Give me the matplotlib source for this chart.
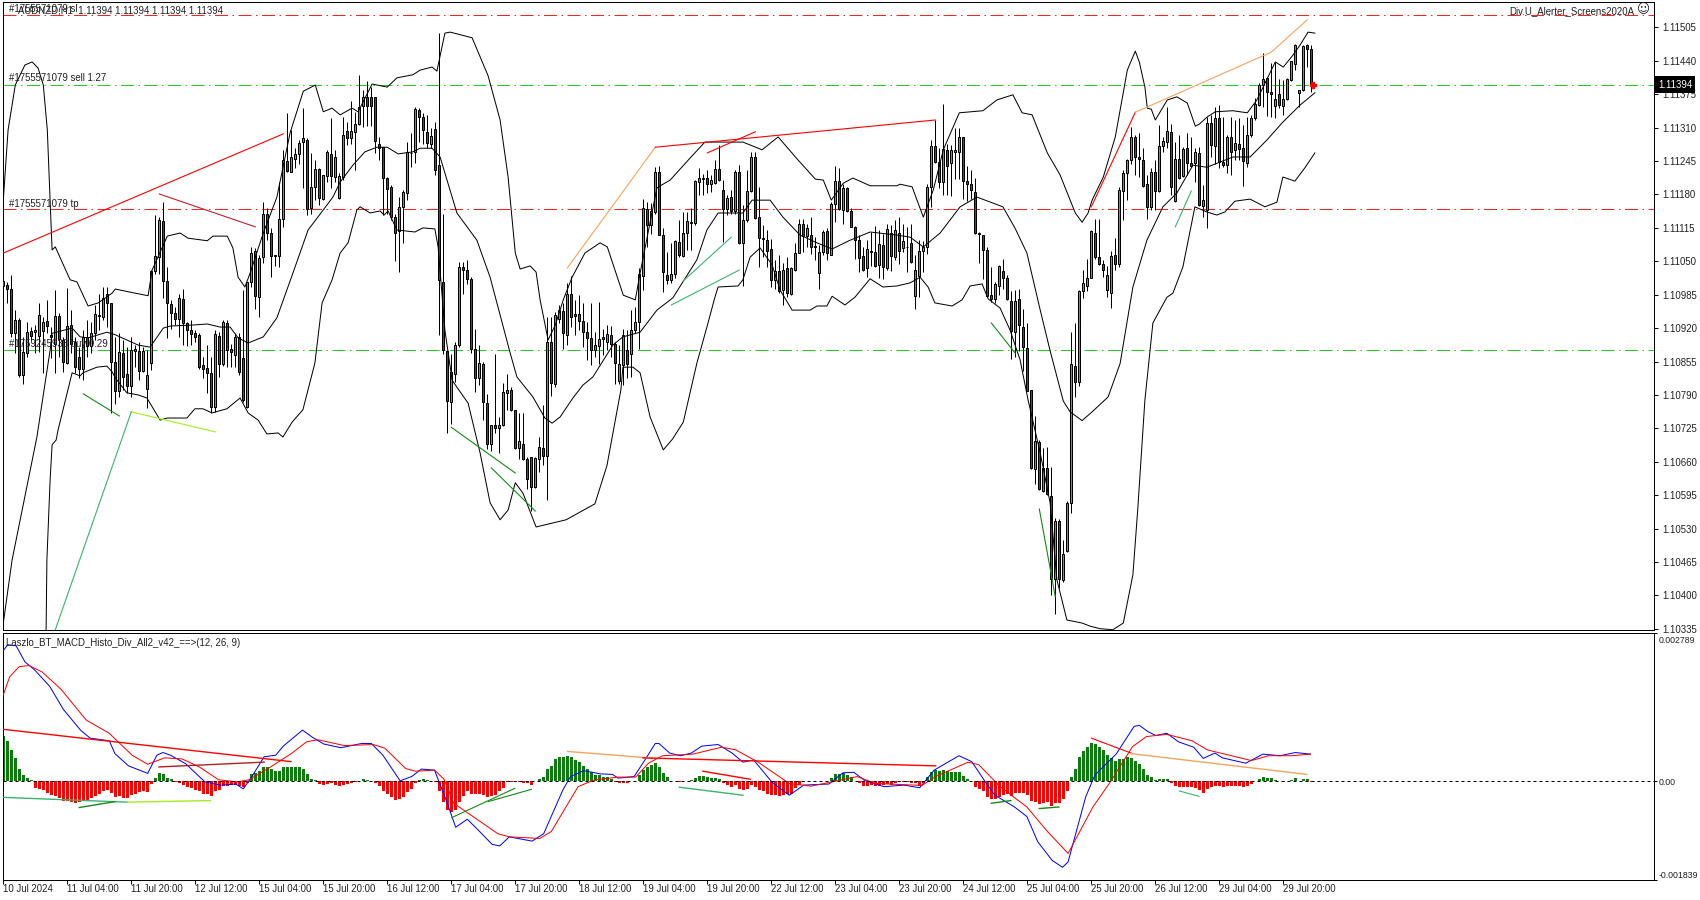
#!/usr/bin/env python3
"""
AUDNZD H1 terminal screenshot: candles with bands on top, MACD histogram pane below
"""

import numpy as np
import matplotlib
matplotlib.use('Agg')
import matplotlib.pyplot as plt
from matplotlib.transforms import ScaledTranslation

plt.rcParams['font.family'] = ['Liberation Sans', 'DejaVu Sans']

# all candle values are points above 1.10000
highs = [
    1021,1010,1023,955,939,903,932,923,926,968,
    942,974,923,995,949,903,999,955,903,884,
    916,936,932,965,987,1000,1000,969,903,910,
    897,884,903,887,893,884,877,1033,1140,1137,
    1166,1039,974,961,987,997,932,936,916,910,
    864,887,864,916,913,936,936,890,910,910,
    994,1010,1078,1075,1062,1166,1153,1114,1062,1205,
    1267,1338,1305,1270,1286,1349,1289,1260,1247,1231,
    1218,1266,1328,1266,1221,1331,1322,1361,1341,1412,
    1383,1400,1390,1370,1292,1273,1215,1198,1143,1176,
    1189,1283,1299,1351,1348,1338,1335,1309,1322,1494,
    1142,877,870,893,1049,1049,1052,1019,919,887,
    854,792,731,870,747,813,831,805,760,754,
    754,669,670,669,709,770,942,942,951,964,
    968,1007,1021,974,984,969,932,968,913,971,
    919,926,924,893,887,919,916,955,961,1036,
    1172,1166,1163,1234,1235,1114,1069,1085,1091,1130,
    1146,1146,1153,1208,1231,1220,1228,1218,1248,1276,
    1209,1179,1189,1227,1237,1159,1227,1263,1263,1195,
    1120,1110,1094,1052,1062,1046,1059,1039,1085,1133,
    1133,1123,1136,1097,1081,1110,1114,1166,1235,1231,
    1201,1194,1153,1118,1101,1078,1091,1107,1118,1110,
    1104,1123,1120,1130,1136,1123,1117,1122,1062,1091,
    1089,1201,1286,1325,1270,1357,1279,1276,1309,1310,
    1291,1235,1227,1213,1107,1102,1078,1039,1010,1042,
    1055,1023,993,995,996,958,930,800,749,703,
    686,688,649,550,548,508,583,913,930,994,
    1033,1055,1111,1132,1133,1052,1041,1071,1096,1195,
    1227,1250,1312,1296,1299,1270,1218,1231,1247,1315,
    1292,1350,1318,1283,1296,1273,1299,1292,1270,1273,
    1198,1331,1335,1351,1354,1331,1296,1331,1325,1328,
    1315,1331,1335,1367,1396,1455,1409,1435,1438,1404,
    1403,1406,1440,1472,1383,1471,1472,1471]
body_tops = [
    1011,1004,997,936,936,874,913,914,916,945,
    931,934,906,943,943,897,924,926,893,864,
    903,902,911,947,945,978,986,968,854,874,
    871,830,878,880,876,876,828,1032,1060,1130,
    1128,1012,967,950,978,976,929,917,910,906,
    848,843,832,908,905,932,929,880,902,902,
    861,1010,1067,1070,1056,1143,1143,1106,1062,1133,
    1247,1245,1252,1258,1281,1289,1287,1194,1229,1229,
    1217,1262,1259,1252,1216,1296,1303,1303,1318,1351,
    1369,1369,1369,1369,1279,1272,1213,1194,1137,1155,
    1184,1263,1261,1346,1344,1331,1301,1294,1307,1237,
    1010,875,835,887,1039,1039,1034,1015,880,853,
    851,775,731,731,732,796,800,800,760,700,
    695,666,669,668,689,687,893,893,945,955,
    953,986,986,947,947,934,913,900,888,899,
    902,908,906,890,851,906,877,917,931,1026,
    1154,1151,1148,1224,1223,1102,1023,1025,1089,1087,
    1106,1128,1126,1206,1213,1213,1213,1208,1229,1229,
    1189,1174,1176,1224,1223,1130,1187,1252,1252,1137,
    1095,1092,1073,1031,1031,1034,1036,1036,1067,1123,
    1122,1114,1102,1079,1068,1107,1108,1162,1206,1206,
    1192,1192,1148,1117,1091,1060,1073,1071,1068,1083,
    1081,1112,1106,1110,1106,1089,1078,1085,1034,1070,
    1078,1194,1275,1275,1244,1268,1266,1266,1266,1291,
    1291,1206,1201,1185,1106,1101,1072,985,1005,1040,
    1032,1018,972,973,977,922,882,799,701,699,
    648,648,594,544,544,481,580,850,846,992,
    1007,1018,1108,1106,1059,1044,1023,1061,1062,1189,
    1221,1247,1292,1292,1252,1247,1200,1223,1224,1275,
    1285,1304,1301,1249,1249,1268,1270,1242,1263,1261,
    1169,1320,1320,1329,1329,1244,1291,1291,1281,1279,
    1270,1296,1328,1357,1394,1405,1406,1379,1366,1375,
    1365,1404,1440,1470,1383,1469,1470,1463]
body_bottoms = [
    1002,996,911,910,828,828,872,905,913,905,
    915,925,903,890,899,854,852,890,845,841,
    841,885,885,911,943,942,968,854,798,798,
    825,808,808,876,837,837,802,852,1032,1058,
    1012,968,950,937,937,929,917,908,903,845,
    840,833,767,767,850,850,878,874,867,834,
    780,767,1010,983,981,1059,1106,1061,1061,1061,
    1133,1226,1224,1250,1258,1283,1151,1153,1194,1174,
    1172,1216,1216,1215,1174,1215,1290,1289,1301,1318,
    1352,1353,1352,1285,1270,1213,1191,1137,1106,1109,
    1155,1182,1260,1263,1331,1305,1281,1279,1228,1013,
    877,779,776,831,887,1033,1016,880,822,822,
    776,695,695,726,726,731,794,760,687,687,
    666,627,611,611,666,671,671,813,812,938,
    910,906,942,943,934,913,900,878,877,886,
    898,893,890,853,817,849,851,869,916,931,
    1022,1121,1121,1145,1102,1030,1013,1013,1026,1062,
    1061,1106,1124,1124,1205,1211,1201,1200,1203,1208,
    1151,1151,1148,1148,1085,1086,1130,1187,1135,1096,
    1093,1071,1014,1013,993,994,989,986,1034,1067,
    1099,1099,1078,1077,1028,1068,1066,1063,1162,1151,
    1149,1148,1117,1091,1057,1034,1036,1069,1041,1042,
    1039,1036,1060,1058,1071,1076,1077,1048,983,1022,
    1070,1078,1194,1244,1205,1204,1236,1242,1263,1263,
    1206,1201,1189,1105,1104,1072,983,977,977,1002,
    1018,977,915,913,926,884,798,648,646,606,
    603,597,431,431,431,429,486,580,816,816,
    992,1002,1018,1059,1044,1033,994,988,1044,1044,
    1186,1221,1247,1252,1249,1196,1155,1155,1186,1186,
    1275,1283,1195,1167,1213,1216,1242,1236,1242,1159,
    1157,1150,1276,1275,1244,1237,1237,1263,1266,1268,
    1246,1242,1296,1328,1354,1394,1379,1375,1353,1355,
    1353,1365,1403,1433,1377,1383,1464,1394]
lows = [
    976,968,903,871,825,812,864,897,871,874,
    833,910,861,832,864,835,851,871,832,822,
    819,864,871,897,916,936,923,754,773,786,
    799,793,786,845,819,835,764,838,1026,1026,
    978,900,919,926,903,887,885,887,893,841,
    822,793,754,757,825,846,845,845,845,828,
    777,765,1000,958,941,1047,1091,1019,1041,1039,
    1117,1224,1224,1231,1240,1192,1140,1143,1169,1159,
    1169,1205,1192,1205,1172,1208,1276,1279,1228,1315,
    1312,1313,1313,1260,1247,1140,1143,1130,1051,1030,
    1085,1169,1234,1242,1283,1279,1270,1270,1218,906,
    870,716,734,815,884,986,1005,872,796,809,
    742,685,680,715,677,729,760,759,685,666,
    664,607,565,609,640,653,585,787,805,929,
    880,887,923,906,916,884,858,848,864,851,
    868,877,864,812,812,809,822,825,911,880,
    994,1078,1104,1143,1101,991,1006,1007,1017,1059,
    1059,1072,1072,1120,1179,1179,1182,1185,1201,1207,
    1088,1140,1142,1143,1083,1002,1127,1185,1133,1039,
    1059,1039,1000,997,989,964,981,984,1032,1066,
    1068,1078,1065,1052,997,1062,1052,1062,1127,1149,
    1122,1146,1116,1055,1029,1032,1020,1040,1039,1018,
    1016,1034,1032,1052,1045,1068,1029,1046,958,981,
    1029,1065,1155,1242,1192,1179,1179,1177,1211,1211,
    1172,1168,1172,1104,1046,1016,981,971,969,984,
    997,974,860,863,876,837,797,646,617,604,
    601,595,400,363,415,425,485,561,786,808,
    978,992,1017,1055,1042,1020,981,960,1033,1039,
    1130,1170,1240,1218,1214,1195,1132,1149,1149,1185,
    1263,1270,1179,1166,1211,1214,1218,1234,1205,1157,
    1137,1114,1253,1240,1231,1234,1221,1218,1247,1247,
    1196,1234,1292,1325,1352,1351,1333,1330,1328,1348,
    1335,1364,1401,1422,1350,1381,1429,1380]
# G = up bar, R = down bar
bar_dir = ("RRRGRGGRGG" "GRRGRRGRRR" "GRGGGGRRRG" "RRGGRGGGGG" "RRRRGRRRRR"
           "RRRGRGRRGR" "RGGRGGRRGG" "GRGGGGRGGR" "GGRGGGRGGG" "GRRRRRRRRG"
           "GGGGRRRGRR" "RRGGGRRRRG" "RRGRGGGRRG" "RRRGGRGRGG" "RGRRRRRRGG"
           "RGRRGGRGGG" "GRGGRRRGGR" "GGRGGGRGGR" "RGRGRGGGRR" "RRRGRGRGGG"
           "RGRGGGRGGR" "GRRRRRGGRG" "RGRGRGGRGG" "GGGRRGRGGG" "RRRRRRRRGG"
           "RRRGRRRRGR" "GRRGRGGGRG" "GGGRRRGGRG" "GGGRRRRGRG" "GGRGRGRRGR"
           "GGRGRRGRGR" "RGGGGGRRGR" "GGGGGGRR")

# bands, as (bar number, points above 1.10000)
upper_x = [0,1.2,3,5.4,7.2,8.7,10,11,11.7,12.2,13,16.7,18.4,21.2,23.7,27.2,28,31.7,36.2,37.2,41,44.2,46.2,51,52.4,56,57.4,58.7,60.4,61.7,65,68.4,71.7,75,78,80,82.2,84.2,87.2,88.7,92.2,96,98.4,102.4,104.2,107.2,108.4,110.4,111.7,117.2,121.2,124.2,126.2,128,129.2,131.7,133.2,134.2,136.2,138,140,142.2,145.4,149.2,151,155,158,159.2,163.4,166.7,171.7,175.4,180.9,184.9,189.7,193.7,198.7,203,205,207,210,212.4,216.7,223.4,224.2,227.2,230,232.5,235,239,244.9,248.4,252.4,254.7,257.2,261,264.2,268,269.7,271.2,272.2,275,278,281,283,284,285.4,286,287,288,291,293.4,296,298,299,301,303,307.4,311,313.4,318,320,322.4,324.2,326.2,327.9]
upper_y = [1169,1306,1393,1432,1438,1426,1393,1306,1169,1072,1078,1014,1010,963,969,988,996,990,983,1033,1099,1105,1095,1090,1099,1099,1076,1019,1000,1027,1105,1175,1300,1381,1393,1341,1348,1335,1348,1341,1395,1389,1407,1413,1422,1428,1420,1494,1496,1485,1411,1325,1214,1066,1035,1041,1029,975,897,926,975,1019,1066,1086,1078,984,975,1027,1193,1208,1251,1282,1282,1282,1267,1292,1247,1210,1208,1169,1202,1212,1197,1197,1200,1195,1136,1189,1267,1339,1343,1364,1374,1339,1335,1261,1218,1144,1126,1144,1169,1214,1292,1422,1459,1438,1389,1348,1346,1325,1364,1370,1358,1313,1317,1331,1341,1343,1339,1364,1438,1428,1451,1471,1496,1494]
mid_x = [0,2.2,8.4,11.7,12.2,17.2,19.2,21.2,25.9,28,33.7,36.7,40,41.7,47.4,51,54.2,56.7,58.7,61.2,65,68.4,72.4,76.2,80,82.4,84.2,87.4,90.4,93.4,96,98.7,102.4,104.2,107.2,109.2,113.4,118.4,121.7,126.7,128.4,132.4,135.4,137.2,139.2,142.4,144.9,147.4,152.4,154.9,159.2,163.4,167.4,169.9,173.4,175.9,178.7,184.9,187.2,191.7,194.9,199.2,203.4,207.2,211.7,216.7,223.4,226.7,230,234.2,239.2,243.4,249.9,252.9,255.9,259.2,261.7,265,266.7,269.7,272.2,276.2,279.2,282.4,285.9,289.9,293.4,297.4,300.9,307.4,311.7,315.9,319.9,324.2,327.9]
mid_y = [346,469,708,877,910,920,903,901,912,907,887,883,920,924,926,928,922,922,901,891,903,940,1027,1111,1150,1175,1204,1237,1263,1272,1272,1259,1263,1270,1270,1253,1144,1091,1019,872,825,786,745,735,747,784,809,825,887,903,912,955,979,1010,1053,1111,1144,1144,1169,1169,1136,1101,1086,1074,1091,1107,1101,1097,1078,1105,1156,1175,1156,1115,1066,956,876,778,757,740,757,786,851,1000,1091,1156,1183,1237,1233,1253,1253,1286,1321,1354,1378]
lower_x = [10.7,10.9,11.7,12.2,13.2,13.7,17.2,19.2,19.9,23.4,25.9,27.2,28,30.9,33.7,35.9,39.2,41,45.9,47.9,49.9,52.2,55.9,59.2,61.2,63.7,65.9,68.7,69.9,72.2,74.9,77.9,79.7,82.2,84.2,86.2,88.4,89.2,91.7,94.2,95.2,96.2,98.4,102.9,104.9,107.9,108.7,110.4,112.2,113.4,116.2,119.2,121.7,124.2,126.2,128,129.9,133.2,140.7,147.9,150.9,154.4,154.9,157.4,159.2,161.7,165,167.3,170,173.4,175.9,177.9,178.7,183.7,184.9,186.7,189.2,192.2,194.2,197.2,201.7,203.4,205.9,207.2,210.4,212.9,216.7,219.9,223.4,226.7,229.2,231.2,232.9,237.2,239.7,241.7,244.7,246.2,249.2,251.7,254.2,256.2,259.2,261.7,263.4,265.9,269.7,271.7,274.2,277.4,280,282.4,283.6,285.4,287.4,290.9,292.4,294.9,297.9,300.9,303.4,305.4,307.9,311.7,315.4,318.4,319.9,322.9,325.4,327.9]
lower_y = [333,469,624,693,702,722,833,827,833,844,846,835,823,794,790,784,741,745,745,763,763,755,763,784,755,741,714,716,708,737,761,852,969,1014,1066,1086,1150,1156,1144,1148,1140,1148,1111,1107,1115,1113,1078,916,819,805,774,677,580,547,566,619,599,533,547,578,652,800,844,844,833,747,683,704,737,852,922,980,1000,1002,1014,1058,1076,1043,994,955,955,963,963,982,965,980,1016,1000,1002,1008,1019,1000,969,963,975,1002,1006,977,959,916,858,780,678,580,430,352,346,340,335,333,346,440,566,780,930,980,988,1039,1156,1146,1140,1146,1167,1171,1156,1165,1214,1206,1232,1261]

# order levels, points above 1.10000
level_sl = 1530
level_sell = 1394
level_tp = 1151
level_buy = 877

# divergence lines in the price pane: colour, bars, points
price_lines = [
    ('#ff0000', [0, 70], [1066, 1298]),
    ('#c02030', [39, 63], [1181, 1117]),
    ('#158a15', [20, 29], [792, 749]),
    ('#a4ee20', [32, 53], [757, 718]),
    ('#3cb371', [13, 32], [333, 757]),
    ('#158a15', [112, 128], [727, 638]),
    ('#158a15', [122, 133], [648, 564]),
    ('#3cb371', [170, 182], [1012, 1097]),
    ('#3cb371', [167, 184], [965, 1033]),
    ('#f4a460', [141, 163], [1037, 1272]),
    ('#ff0000', [163, 233], [1272, 1325]),
    ('#ff0000', [176, 188], [1261, 1302]),
    ('#158a15', [247, 253], [930, 871]),
    ('#158a15', [259, 263], [568, 397]),
    ('#ff0000', [272, 283], [1156, 1340]),
    ('#f4a460', [283, 317, 326], [1340, 1457, 1520]),
    ('#3cb371', [293, 297], [1117, 1187]),
]

# MACD pane, values in 1e-5
macd_hist = [
    85,76,59,43,24,12,7,3,-12,-14,
    -16,-21,-26,-28,-32,-36,-37,-38,-40,-38,
    -37,-35,-31,-27,-24,-19,-16,-21,-29,-28,
    -31,-31,-26,-23,-20,-19,-20,-5,7,16,
    14,7,4,-1,-3,-7,-11,-13,-16,-19,
    -23,-23,-27,-18,-16,-9,-8,-7,-6,-8,
    -10,-4,13,15,19,27,27,23,19,19,
    27,27,27,27,26,23,13,5,2,-5,
    -7,-5,-4,-7,-9,-7,-5,-4,-2,1,
    4,3,1,-3,-9,-18,-24,-29,-35,-33,
    -30,-20,-15,-4,2,4,3,1,-1,-19,
    -38,-53,-58,-54,-38,-27,-19,-23,-24,-24,
    -26,-29,-28,-26,-19,-13,-2,-1,-2,-2,
    -3,-4,-7,0,4,8,23,29,41,45,
    46,48,45,40,36,29,23,18,12,11,
    8,8,4,-1,-4,-4,-3,0,1,12,
    21,27,30,34,27,16,8,0,0,-2,
    0,0,3,6,10,10,8,7,6,4,
    -3,-7,-10,-7,-14,-16,-14,-7,-10,-16,
    -18,-24,-26,-26,-27,-26,-24,-23,-13,-7,
    -1,1,1,1,1,1,1,6,13,14,
    15,12,8,0,-4,-8,-8,-7,-9,-8,
    -7,-5,-7,-3,-1,-1,-1,-4,-4,-8,
    -4,8,18,21,19,21,19,18,18,17,
    10,4,0,-10,-14,-19,-29,-33,-33,-29,
    -26,-24,-27,-21,-21,-21,-26,-36,-38,-42,
    -40,-39,-46,-41,-40,-33,-19,8,24,46,
    57,65,72,70,65,58,49,44,38,42,
    42,45,44,38,33,23,12,8,2,4,
    4,4,-4,-8,-11,-11,-11,-11,-13,-16,
    -21,-14,-11,-8,-8,-10,-9,-9,-9,-9,
    -10,-9,-5,1,4,8,6,6,3,0,
    -2,1,2,6,1,4,4,-2]
macd_x = [0,1.1,3.2,5.4,7.8,11.6,15,19.3,21.7,26.5,27.9,31.3,36.1,38.4,39.9,41.8,45.6,50.4,54.2,58.1,60,61.9,65.2,68.1,70,74.8,77.2,80.1,84.4,89.6,92,94.9,99.2,102.1,104.5,107.8,110.7,113.1,116,118.3,122.2,124.1,126.5,132.2,135.1,139.9,141.8,145.1,149.3,152.3,153.7,157.7,160.4,163,163.9,166.6,169.3,172,174.6,178.7,182.2,184.9,187.6,192.1,196.5,200.1,206.4,209.9,212.6,215.3,220.2,225.1,229.1,232.7,238.9,242.1,245.6,247.9,252.8,255.9,258.6,262.2,264.8,266.2,270.6,272.9,278.2,282.7,284,286.2,288.1,290.9,293.8,297.6,300,302.9,304.8,310.6,314.9,319.2,323,326.8]
macd_y = [245,256,254,224,209,178,135,96,81,76,52,29,15,49,54,49,33,-1,-7,-5,-14,6,46,49,66,96,83,70,63,71,71,49,1,9,23,21,-35,-86,-71,-88,-118,-121,-104,-112,-98,-16,9,20,14,13,6,9,40,71,71,53,48,53,66,69,53,36,40,-1,-26,-7,-5,16,17,2,-10,-7,-12,21,48,37,-2,-26,-48,-66,-113,-148,-161,-151,-29,12,51,103,105,93,86,90,74,64,43,53,44,34,51,48,54,51]
signal_x = [0,1.6,4,6.4,9.7,14.5,20.7,26.5,32.2,36.1,40.3,44.7,49,53.8,58.5,61.4,66.2,72,75.8,78.6,85.3,92.5,95.4,100.6,103,107.8,110.2,112.6,118.8,123.6,126.5,134.1,137,143.7,147.5,149.3,153.7,158.1,161.3,164.8,172.4,179.6,183.1,188.5,196.5,201.9,207.2,213.5,218,227.8,229.6,233.1,241.2,243.9,249.2,255.9,260.8,266.2,272.4,276.5,282.3,285.8,290.9,297.2,301,312,316.3,322,326.8]
signal_y = [162,196,215,217,205,172,115,90,49,32,44,42,27,3,-1,3,24,52,74,78,67,69,62,24,19,21,4,-41,-73,-98,-104,-107,-94,-10,2,4,8,8,34,48,51,64,59,37,-4,-9,-1,9,-4,-7,-8,9,36,31,-10,-48,-92,-135,-48,-4,65,84,88,76,59,39,48,48,51]

# divergence lines in the MACD pane: colour, bars, values, width
macd_lines = [
    ('#ff0000', [0, 71.9], [97.5, 37], 1.0),
    ('#b02020', [38.9, 65.2], [27, 36], 1.0),
    ('#3cb371', [0, 31], [-30, -39], 1.0),
    ('#a4ee20', [31, 51.8], [-39, -36], 1.0),
    ('#158a15', [19, 27.9], [-49, -38], 1.0),
    ('#158a15', [112.1, 127.9], [-68, -13], 0.8),
    ('#158a15', [121.2, 132], [-38, -15], 0.8),
    ('#f4a460', [141.1, 163], [56, 43], 1.0),
    ('#ff0000', [159.9, 233.1], [44, 29], 1.0),
    ('#ff0000', [174.9, 186.7], [19, 4], 1.0),
    ('#3cb371', [169, 184.9], [-11, -26], 1.0),
    ('#158a15', [247, 251.9], [-41, -36], 1.0),
    ('#158a15', [259, 263.9], [-51, -48], 1.0),
    ('#ff0000', [272, 282.3], [81, 52], 0.8),
    ('#f4a460', [281.9, 325.9], [52, 13], 1.0),
    ('#3cb371', [294, 298.9], [-18, -28], 0.8),
]

# tick labels
price_ticks = [1505, 1440, 1375, 1310, 1245, 1180, 1115, 1050, 985, 920, 855,
               790, 725, 660, 595, 530, 465, 400, 335]
time_labels = ['10 Jul 2024', '11 Jul 04:00', '11 Jul 20:00', '12 Jul 12:00',
               '15 Jul 04:00', '15 Jul 20:00', '16 Jul 12:00', '17 Jul 04:00',
               '17 Jul 20:00', '18 Jul 12:00', '19 Jul 04:00', '19 Jul 20:00',
               '22 Jul 12:00', '23 Jul 04:00', '23 Jul 20:00', '24 Jul 12:00',
               '25 Jul 04:00', '25 Jul 20:00', '26 Jul 12:00', '29 Jul 04:00',
               '29 Jul 20:00']
BARS_PER_LABEL = 16

W, H = 1700, 900
LW = 0.72  # one pixel
TEXT_COLOR = '#202020'
FS = 6.9

fig = plt.figure(figsize=(W / 100, H / 100), dpi=100, facecolor='white')
ax = fig.add_axes([2.5 / W, (H - 630) / H, 1651.8 / W, 628 / H])
ax2 = fig.add_axes([2.5 / W, (H - 879.5) / H, 1651.8 / W, 247 / H])


def px(pts):
    return 1.1 + np.asarray(pts, dtype=float) / 1e5


bars = np.arange(len(highs))
up = np.array([c == 'G' for c in bar_dir])
top = px(body_tops)
bot = px(body_bottoms)

# order levels
dashdot = (0, (13, 4.5, 1.5, 4.5))
for level, col in [(level_sl, '#ff2020'), (level_sell, '#22cc22'),
                   (level_tp, '#ff2020'), (level_buy, '#22cc22')]:
    ax.plot([0, 413], [px(level)] * 2, color=col, lw=LW, ls=dashdot, zorder=1)

# candles
ax.vlines(bars, px(lows), px(highs), color='black', lw=LW, zorder=2)
ax.bar(bars[up], (top - bot)[up], bottom=bot[up], width=0.55, color='#1fd01f',
       edgecolor='black', linewidth=LW, zorder=3)
ax.bar(bars[~up], (top - bot)[~up], bottom=bot[~up], width=0.55, color='#d01414',
       edgecolor='black', linewidth=LW, zorder=3)

# bands
for xs, ys in [(upper_x, upper_y), (mid_x, mid_y), (lower_x, lower_y)]:
    ax.plot(xs, px(ys), color='black', lw=LW, zorder=4)

for col, xs, ys in price_lines:
    ax.plot(xs, px(ys), color=col, lw=0.8, zorder=4)

# last price marker
ax.plot([len(highs) - 1 + 0.4], [px(level_sell)], marker='P', ms=4.5, color='#ff0000',
        mec='#ff0000', zorder=5)

ax.set_xlim(-0.2, 412.75)
ax.set_ylim(px(332.5), px(1554.6))
ax.set_xticks([])
ax.yaxis.tick_right()
ax.set_yticks(px(price_ticks))
ax.set_yticklabels(['%.5f' % v for v in px(price_ticks)], fontsize=FS, color=TEXT_COLOR)
ax.tick_params(axis='y', length=3, width=LW, pad=3)

# texts in the price pane
tkw = dict(transform=ax.get_yaxis_transform(), fontsize=FS, color=TEXT_COLOR, zorder=6)
ax.text(0.0037, px(1541), '#1755571079 sl', va='center', **tkw)
ax.text(0.0093, px(1538), 'AUDNZD,H1  1.11394 1.11394 1.11394 1.11394', va='center', **tkw)
ax.text(0.0037, px(1407), '#1755571079 sell 1.27', va='center', **tkw)
ax.text(0.0037, px(1162), '#1755571079 tp', va='center', **tkw)
ax.text(0.0037, px(889), '#1759245933 buy 0.29', va='center', **tkw)
ax.text(0.9877, px(1537), 'Div.U_Alerter_Screens2020A', ha='right', va='center', **tkw)
ax.text(0.9932, px(1539), '\u263a', ha='center', va='center',
        transform=ax.get_yaxis_transform(), fontsize=9, color=TEXT_COLOR,
        family='DejaVu Sans', zorder=6)

# current price tag
ax.text(1.0022, px(level_sell), '%.5f' % px(level_sell), transform=ax.get_yaxis_transform(),
        ha='left', va='center', fontsize=FS, color='white', clip_on=False, zorder=7,
        bbox=dict(boxstyle='square,pad=0.32', fc='black', ec='black', lw=0))

# MACD pane
hist = np.array(macd_hist, dtype=float) / 1e5
pos = hist > 0
ax2.bar(bars[pos], hist[pos], width=0.75, color='#0c7c0c', linewidth=0, zorder=2)
ax2.bar(bars[~pos], hist[~pos], width=0.75, color='#ff0000', linewidth=0, zorder=2)
ax2.plot(macd_x, np.array(macd_y) / 1e5, color='#0000ff', lw=LW, zorder=3)
ax2.plot(signal_x, np.array(signal_y) / 1e5, color='#ff0000', lw=LW, zorder=3)
for col, xs, ys, w in macd_lines:
    ax2.plot(xs, np.array(ys) / 1e5, color=col, lw=w, zorder=4)
ax2.plot([0, 413], [0, 0], color='black', lw=LW, ls=(0, (3, 3)), zorder=5)

ax2.set_xlim(-0.2, 412.75)
ax2.set_ylim(-0.001839, 0.002789)
ax2.yaxis.tick_right()
ax2.set_yticks([0.002789, 0, -0.001839])
ax2.set_yticklabels(['0.002789', '0.00', '-0.001839'], fontsize=6.3, color=TEXT_COLOR)
ax2.tick_params(axis='y', length=2, width=LW, pad=0.8)
labels = ax2.get_yticklabels()
labels[0].set_va('top')
labels[0].set_transform(labels[0].get_transform()
                        + ScaledTranslation(0, -2.2 / 72, fig.dpi_scale_trans))
labels[2].set_va('bottom')

ticks = np.arange(len(time_labels)) * BARS_PER_LABEL
ax2.set_xticks(ticks)
ax2.set_xticklabels(time_labels, fontsize=FS, color=TEXT_COLOR, ha='left')
ax2.tick_params(axis='x', length=3, width=LW, pad=0.5, direction='out')
ax2.text(0.002, 0.958, 'Laszlo_BT_MACD_Histo_Div_All2_v42_==>(12, 26, 9)', transform=ax2.transAxes,
         fontsize=FS, color=TEXT_COLOR, va='center', zorder=6)

for a in (ax, ax2):
    for s in a.spines.values():
        s.set_linewidth(LW)
        s.set_color('black')

fig.savefig('out.png', dpi=100)
